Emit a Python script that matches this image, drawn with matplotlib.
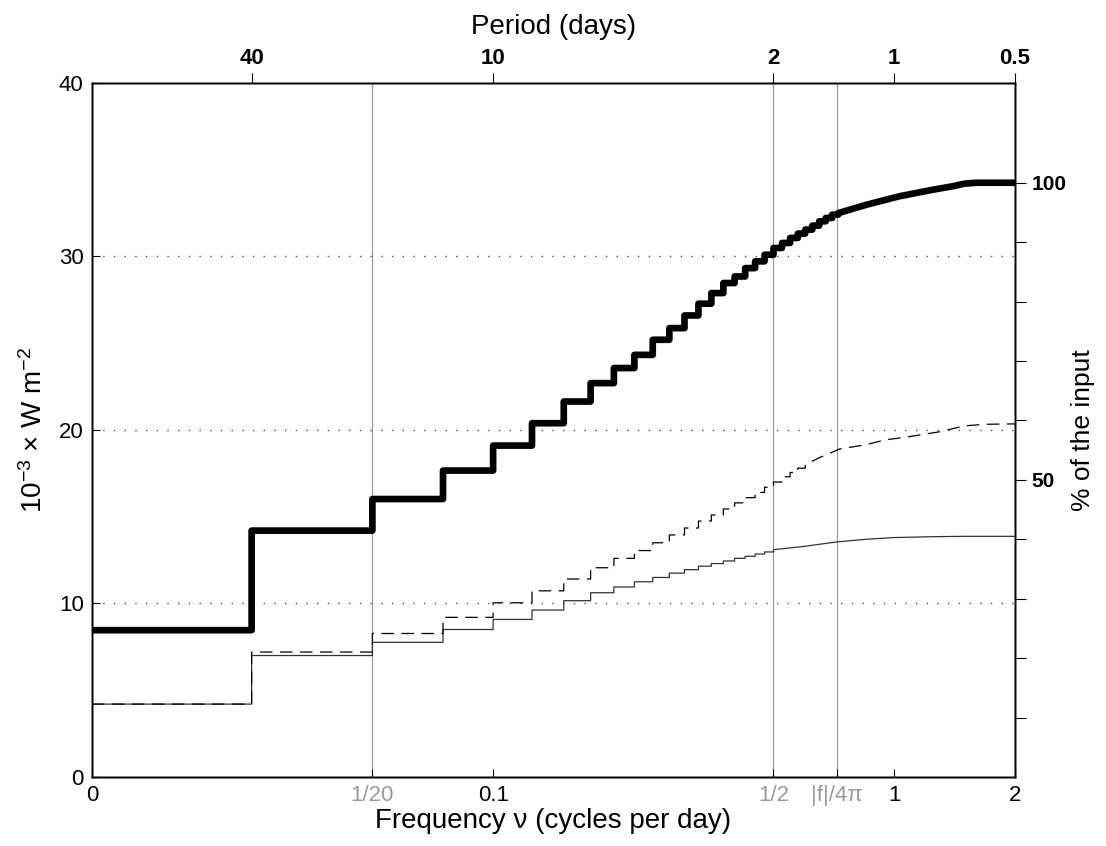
import numpy as np
import matplotlib
matplotlib.use('Agg')
import matplotlib.pyplot as plt

plt.rcParams['font.family'] = ['Liberation Sans', 'DejaVu Sans']

# frequency axis (cycles per day)
dnu = 1 / 40          # harmonic spacing of the record
nu_left = 0.01        # left end of the log axis, shown as "0"
nu_right = 2.0
f_mark = 0.72         # |f|/4pi

# cumulative levels per harmonic band [k/40, (k+1)/40), then smooth tail
total_steps = [8.46, 14.2, 16.02, 17.66, 19.1, 20.39, 21.64, 22.7, 23.57, 24.33,
               25.2, 25.87, 26.6, 27.28, 27.89, 28.47, 28.85, 29.33, 29.72, 30.1,
               30.49, 30.78, 31.07, 31.32, 31.55, 31.78, 32.03, 32.22, 32.41]
total_tail_nu = [0.725, 0.855, 1.03, 1.25, 1.4, 1.5, 1.6, 2.0]
total_tail = [32.5, 32.99, 33.47, 33.85, 34.05, 34.2, 34.25, 34.25]

dashed_steps = [4.2, 7.2, 8.27, 9.2, 10.04, 10.73, 11.41, 12.06, 12.6, 13.05,
                13.5, 13.95, 14.35, 14.75, 15.1, 15.45, 15.8, 16.1, 16.4, 16.7,
                17.0, 17.3, 17.55, 17.8]
dashed_tail_nu = [0.6, 0.65, 0.73, 0.85, 0.95, 1.08, 1.3, 1.5, 1.7, 2.0]
dashed_tail = [18.0, 18.4, 18.9, 19.15, 19.43, 19.6, 19.9, 20.24, 20.33, 20.35]

solid_steps = [4.2, 7.0, 7.76, 8.5, 9.08, 9.62, 10.16, 10.62, 10.95, 11.25,
               11.5, 11.75, 11.95, 12.15, 12.3, 12.45, 12.6, 12.72, 12.85, 12.97]
solid_tail_nu = [0.5, 0.6, 0.72, 0.85, 1.0, 1.25, 1.5, 2.0]
solid_tail = [13.1, 13.3, 13.55, 13.7, 13.8, 13.85, 13.87, 13.87]

input_total = 34.25   # 100 % of the input
period_ticks = [40, 10, 2, 1, 0.5]


def staircase(levels, tail_nu, tail_val):
    xs, ys = [], []
    for k, v in enumerate(levels):
        x0 = max(k * dnu, nu_left)
        xs += [x0, (k + 1) * dnu]
        ys += [v, v]
    return np.array(xs + tail_nu), np.array(ys + tail_val)


fig = plt.figure(figsize=(11.06, 8.46), dpi=100)
ax = fig.add_axes([0.0832, 0.0816, 0.8345, 0.8203])
ax.set_xscale('log')
ax.set_xlim(nu_left, nu_right)
ax.set_ylim(0, 40)

# dotted horizontal grid
for g in [10, 20, 30]:
    ax.axhline(g, color='0.3', lw=1.0, dashes=(1, 6.7), zorder=1)

# grey reference frequencies
for v in [1 / 20, 1 / 2, f_mark]:
    ax.axvline(v, color='#9a9a9a', lw=0.9, zorder=1)

x, y = staircase(solid_steps, solid_tail_nu, solid_tail)
ax.plot(x, y, color='#333333', lw=0.9, zorder=3)
x, y = staircase(dashed_steps, dashed_tail_nu, dashed_tail)
ax.plot(x, y, color='black', lw=0.9, dashes=(10, 6), zorder=3)
x, y = staircase(total_steps, total_tail_nu, total_tail)
ax.plot(x, y, color='black', lw=4.8, solid_joinstyle='round',
        solid_capstyle='butt', zorder=4)

# bottom axis
ax.xaxis.set_minor_locator(matplotlib.ticker.NullLocator())
bt = [nu_left, 1 / 20, 0.1, 1 / 2, f_mark, 1, 2]
ax.set_xticks(bt)
ax.set_xticklabels(['0', '1/20', '0.1', '1/2', '|f|/4π', '1', '2'])
for lab, c in zip(ax.get_xticklabels(), ['k', '#9a9a9a', 'k', '#9a9a9a', '#9a9a9a', 'k', 'k']):
    lab.set_color(c)
ax.tick_params(axis='x', direction='in', length=6, labelsize=16, pad=6)
ax.set_xlabel('Frequency ν (cycles per day)', fontsize=20, labelpad=1)

ax.set_yticks([0, 10, 20, 30, 40])
ax.tick_params(axis='y', direction='in', length=6, labelsize=16, pad=6)
ax.set_ylabel(r'$\mathregular{10^{-3}}$ × W m$\mathregular{^{-2}}$', fontsize=20, labelpad=8)

# top axis: period in days
axt = ax.twiny()
axt.set_xscale('log')
axt.set_xlim(nu_left, nu_right)
axt.xaxis.set_minor_locator(matplotlib.ticker.NullLocator())
axt.set_xticks([1 / p for p in period_ticks])
axt.set_xticklabels([('%g' % p) for p in period_ticks], fontweight='bold')
axt.tick_params(axis='x', direction='out', length=7, labelsize=16, pad=3)
axt.set_xlabel('Period (days)', fontsize=20, labelpad=10)

# right axis: percent of the input
axr = ax.twinx()
axr.set_ylim(0, 40 / input_total * 100)
axr.set_yticks(np.arange(10, 101, 10))
axr.set_yticklabels(['' if p not in (50, 100) else str(p) for p in range(10, 101, 10)],
                    fontweight='bold')
axr.tick_params(axis='y', direction='out', length=8, labelsize=15, pad=4)
axr.set_ylabel('% of the input', fontsize=19, labelpad=3)

for a in (ax, axt, axr):
    for s in a.spines.values():
        s.set_linewidth(1.0)

fig.savefig('out.png', dpi=100)
